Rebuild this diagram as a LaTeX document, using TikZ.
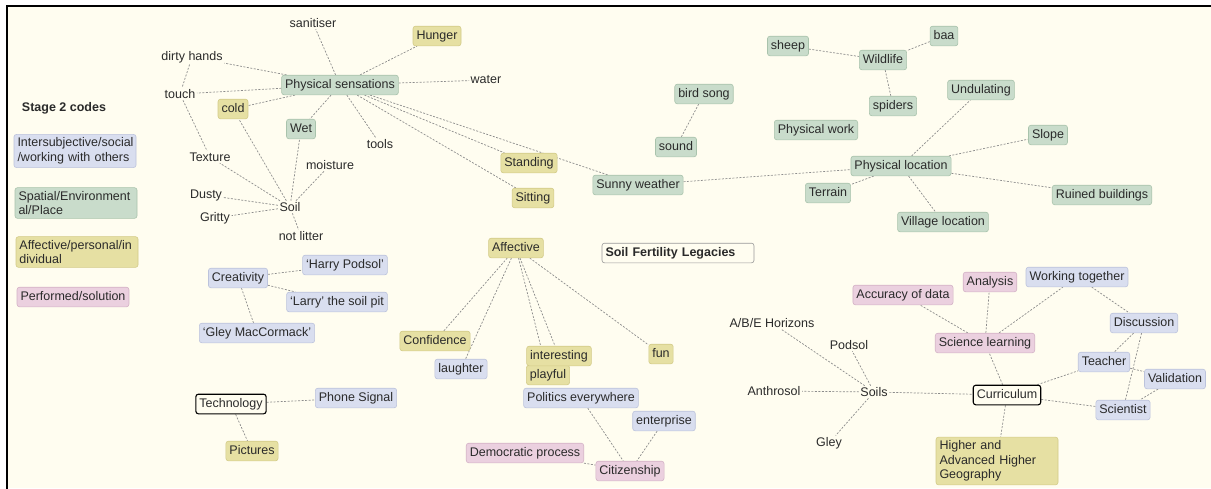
\documentclass[tikz,border=0pt]{standalone}
\usepackage{fontspec}
\setmainfont{Liberation Sans}
\definecolor{paper}{HTML}{FFFDF0}
\definecolor{ink}{HTML}{2A2A2A}
\definecolor{linkc}{HTML}{8C8C8C}
\definecolor{bluF}{HTML}{D9DEEF}
\definecolor{bluD}{HTML}{BCC3DC}
\definecolor{grnF}{HTML}{C9DCCB}
\definecolor{grnD}{HTML}{A9C3AC}
\definecolor{ylwF}{HTML}{E6E0A3}
\definecolor{ylwD}{HTML}{D3CB88}
\definecolor{pnkF}{HTML}{EBD0DF}
\definecolor{pnkD}{HTML}{D4B2C6}
\pgfdeclarelayer{paperlayer}
\pgfdeclarelayer{links}
\pgfsetlayers{paperlayer,links,main}
\begin{document}
\begin{tikzpicture}[x=1pt,y=-1pt,
  every node/.style={font=\fontsize{12.5}{14.5}\selectfont, text=ink},
  lbl/.style={inner sep=1.5pt},
  cb/.style={draw, rounded corners=2.5pt, inner xsep=3.5pt, inner ysep=4pt,
             text height=9pt, text depth=2.6pt, line width=0.6pt},
  blu/.style={cb, fill=bluF, draw=bluD},
  grn/.style={cb, fill=grnF, draw=grnD},
  ylw/.style={cb, fill=ylwF, draw=ylwD},
  pnk/.style={cb, fill=pnkF, draw=pnkD},
  plain/.style={cb, fill=paper, draw=black, line width=1.1pt},
  multi/.style={draw, rounded corners=2.5pt, inner xsep=3.5pt, inner ysep=3.5pt,
             align=left, text width=115pt, line width=0.6pt},
  ln/.style={draw=linkc, dash pattern=on 2pt off 1.5pt, line width=0.7pt}
]
\useasboundingbox (0,0) rectangle (1211,488);
\begin{pgfonlayer}{paperlayer}
  \fill[white] (0,0) rectangle (1211,488);
  \fill[paper] (7,6) rectangle (1211,488);
\end{pgfonlayer}
\draw[line width=2.2pt, line cap=rect] (7,488) -- (7,6) -- (1211,6);

% key
\node[font=\fontsize{12.5}{14.5}\selectfont\bfseries] (lstage) at (64,108) {Stage 2 codes};
\node[multi, fill=bluF, draw=bluD] (key1) at (75,151) {Intersubjective/social\\/working with others};
\node[multi, fill=grnF, draw=grnD] (key2) at (76,203) {Spatial/Environment\\al/Place};
\node[multi, fill=ylwF, draw=ylwD] (key3) at (77,252) {Affective/personal/in\\dividual};
\node[pnk] (key4) at (73,297) {Performed/solution};

% physical sensations cluster
\node[grn] (ps) at (340,85) {Physical sensations};
\node[lbl] (san) at (313,23) {sanitiser};
\node[lbl] (dirty) at (192,57) {dirty hands};
\node[lbl] (touch) at (180,94) {touch};
\node[ylw] (hunger) at (437,36) {Hunger};
\node[lbl] (water) at (486,80) {water};
\node[ylw] (cold) at (233,109) {cold};
\node[grn] (wet) at (301,129) {Wet};
\node[lbl] (tools) at (380,144) {tools};
\node[lbl] (texture) at (210,157) {Texture};
\node[lbl] (moist) at (330,165) {moisture};
\node[lbl] (dusty) at (206,195) {Dusty};
\node[lbl] (soil) at (290,207) {Soil};
\node[lbl] (gritty) at (215,218) {Gritty};
\node[lbl] (litter) at (301,236) {not litter};
\node[ylw] (stand) at (529,163) {Standing};
\node[ylw] (sit) at (533,198) {Sitting};
\node[grn] (sunny) at (638,185) {Sunny weather};

% place cluster
\node[grn] (bird) at (704,94) {bird song};
\node[grn] (sound) at (676,147) {sound};
\node[grn] (sheep) at (788,46) {sheep};
\node[grn] (pwork) at (816,130) {Physical work};
\node[grn] (wild) at (883,60) {Wildlife};
\node[grn] (baa) at (944,36) {baa};
\node[grn] (spiders) at (893,106) {spiders};
\node[grn] (undul) at (981,90) {Undulating};
\node[grn] (slope) at (1048,135) {Slope};
\node[grn] (ploc) at (901,166) {Physical location};
\node[grn] (terrain) at (828,193) {Terrain};
\node[grn] (ruined) at (1102,195) {Ruined buildings};
\node[grn] (village) at (943,222) {Village location};

% creativity and technology
\node[blu] (harry) at (345,265) {‘Harry Podsol’};
\node[blu] (creat) at (238,278) {Creativity};
\node[blu] (larry) at (337,302) {‘Larry’ the soil pit};
\node[blu] (gley) at (257,333) {‘Gley MacCormack’};
\node[plain] (tech) at (231,404) {Technology};
\node[blu] (phone) at (356,398) {Phone Signal};
\node[ylw] (pics) at (252,451) {Pictures};

% affective cluster
\node[ylw] (aff) at (516,248) {Affective};
\node[cb, fill=paper, draw=gray!80, text width=145pt, align=left,
      font=\fontsize{12.5}{14.5}\selectfont\bfseries] (sfl) at (678,253) {Soil Fertility Legacies};
\node[ylw] (conf) at (435,341) {Confidence};
\node[blu] (laugh) at (461,369) {laughter};
\node[ylw] (playful) at (548,375) {playful};
\node[ylw] (inter) at (559,356) {interesting};
\node[ylw] (fun) at (661,354) {fun};
\node[blu] (politics) at (581,398) {Politics everywhere};
\node[blu] (enter) at (664,421) {enterprise};
\node[pnk] (demo) at (525,453) {Democratic process};
\node[pnk] (citizen) at (630,471) {Citizenship};

% soils and curriculum
\node[lbl] (abe) at (772,323) {A/B/E Horizons};
\node[lbl] (podsol) at (849,345) {Podsol};
\node[lbl] (anthro) at (774,391) {Anthrosol};
\node[lbl] (soils) at (874,392) {Soils};
\node[lbl] (gleys) at (829,443) {Gley};
\node[plain] (curr) at (1007,395) {Curriculum};
\node[multi, fill=ylwF, draw=ylwD] (higher) at (997,461) {Higher and\\Advanced Higher\\Geography};
\node[pnk] (acc) at (903,295) {Accuracy of data};
\node[pnk] (anal) at (990,282) {Analysis};
\node[blu] (work) at (1077,277) {Working together};
\node[pnk] (sci) at (985,343) {Science learning};
\node[blu] (disc) at (1144,323) {Discussion};
\node[blu] (teach) at (1104,362) {Teacher};
\node[blu] (valid) at (1175,379) {Validation};
\node[blu] (scient) at (1123,410) {Scientist};

\begin{pgfonlayer}{links}
\foreach \a/\b in {ps/san, ps/dirty, ps/touch, ps/hunger, ps/water, ps/cold, ps/wet,
    ps/tools, ps/stand, ps/sit, ps/sunny, dirty/touch, touch/texture,
    soil/cold, soil/wet, soil/texture, soil/dusty, soil/gritty, soil/moist, soil/litter,
    bird/sound, sheep/wild, baa/wild, wild/spiders,
    sunny/ploc, ploc/undul, ploc/slope, ploc/terrain, ploc/ruined, ploc/village,
    creat/harry, creat/larry, creat/gley, tech/phone, tech/pics,
    aff/conf, aff/laugh, aff/inter, aff/playful, aff/fun,
    politics/citizen, enter/citizen, demo/citizen,
    soils/abe, soils/podsol, soils/anthro, soils/gleys, soils/curr,
    curr/sci, curr/higher, curr/teach, curr/scient,
    sci/acc, sci/anal, sci/work, work/disc, disc/teach, disc/scient,
    teach/valid, valid/scient}
  \draw[ln] (\a) -- (\b);
\end{pgfonlayer}
\end{tikzpicture}
\end{document}
